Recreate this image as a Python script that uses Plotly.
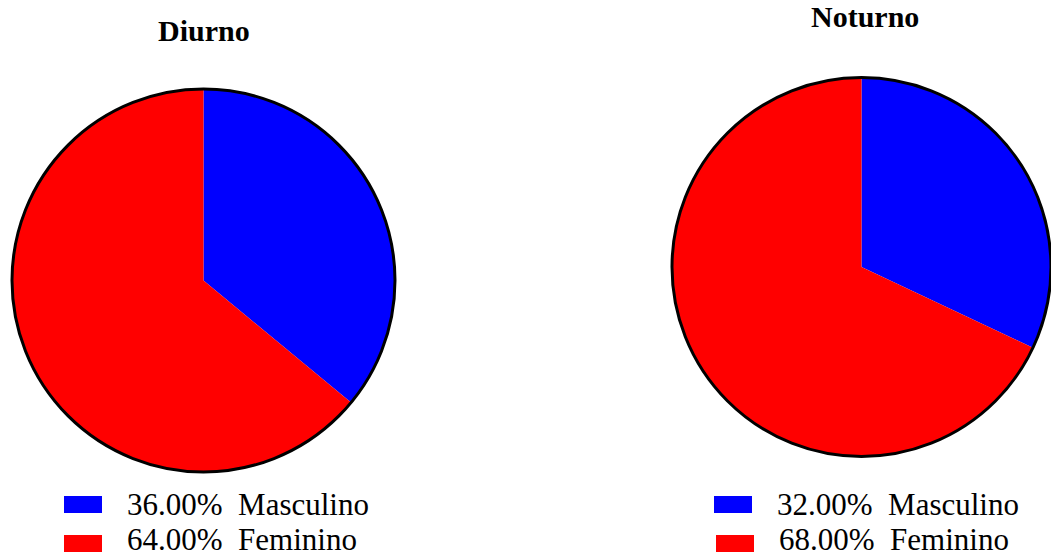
import plotly.graph_objects as go

W, H = 1051, 556

categories = ["Masculino", "Feminino"]
colors = ["#0000ff", "#ff0000"]
diurno_values = [36.0, 64.0]
noturno_values = [32.0, 68.0]
titles = ["Diurno", "Noturno"]

FONT = "Liberation Serif"


def px_x(x):
    return x / W


def px_y(y):
    return 1 - y / H


fig = go.Figure()

# pie domains given in pixels (left, top, right, bottom)
domains = [
    (12, 89, 395, 472),
    (672, 77.5, 1051, 456.5),
]
series = [diurno_values, noturno_values]

for (l, t, r, b), vals in zip(domains, series):
    dom = dict(x=[px_x(l), px_x(r)], y=[px_y(b), px_y(t)])
    fig.add_trace(go.Pie(
        labels=categories, values=vals, domain=dom,
        marker=dict(colors=colors, line=dict(width=0)),
        sort=False, direction="clockwise", rotation=0,
        textinfo="none", showlegend=False, hoverinfo="label+percent",
    ))
    # outer outline only
    fig.add_trace(go.Pie(
        labels=["outline"], values=[1], domain=dom,
        marker=dict(colors=["rgba(0,0,0,0)"], line=dict(color="black", width=3)),
        textinfo="none", showlegend=False, hoverinfo="skip", sort=False,
    ))

annotations = []
shapes = []

# titles
title_pos = [(204, 30), (865, 16)]
for txt, (cx, cy) in zip(titles, title_pos):
    annotations.append(dict(
        text=f"<b>{txt}</b>", x=px_x(cx), y=px_y(cy), xref="paper", yref="paper",
        xanchor="center", yanchor="middle", showarrow=False,
        font=dict(family=FONT, size=30, color="black"),
    ))

# custom legends
legend_layout = [
    [(64, 102, 126), (64, 102, 126)],
    [(714, 752, 776), (716, 754, 778)],
]
row_y = [(496, 513), (535, 552)]
text_y = [504, 539]
for vals, rows in zip(series, legend_layout):
    for i, (cat, col, v) in enumerate(zip(categories, colors, vals)):
        x0, x1, tx = rows[i]
        y0, y1 = row_y[i]
        shapes.append(dict(
            type="rect", xref="paper", yref="paper",
            x0=px_x(x0), x1=px_x(x1), y0=px_y(y1), y1=px_y(y0),
            fillcolor=col, line=dict(width=0),
        ))
        annotations.append(dict(
            text=f"{v:.2f}%\u00a0\u00a0{cat}", x=px_x(tx), y=px_y(text_y[i]),
            xref="paper", yref="paper", xanchor="left", yanchor="middle",
            showarrow=False, borderpad=0,
            font=dict(family=FONT, size=31, color="black"),
        ))

fig.update_layout(
    width=W, height=H,
    margin=dict(l=0, r=0, t=0, b=0),
    paper_bgcolor="white", plot_bgcolor="white",
    showlegend=False,
    annotations=annotations, shapes=shapes,
)

fig.write_html("out.html")
